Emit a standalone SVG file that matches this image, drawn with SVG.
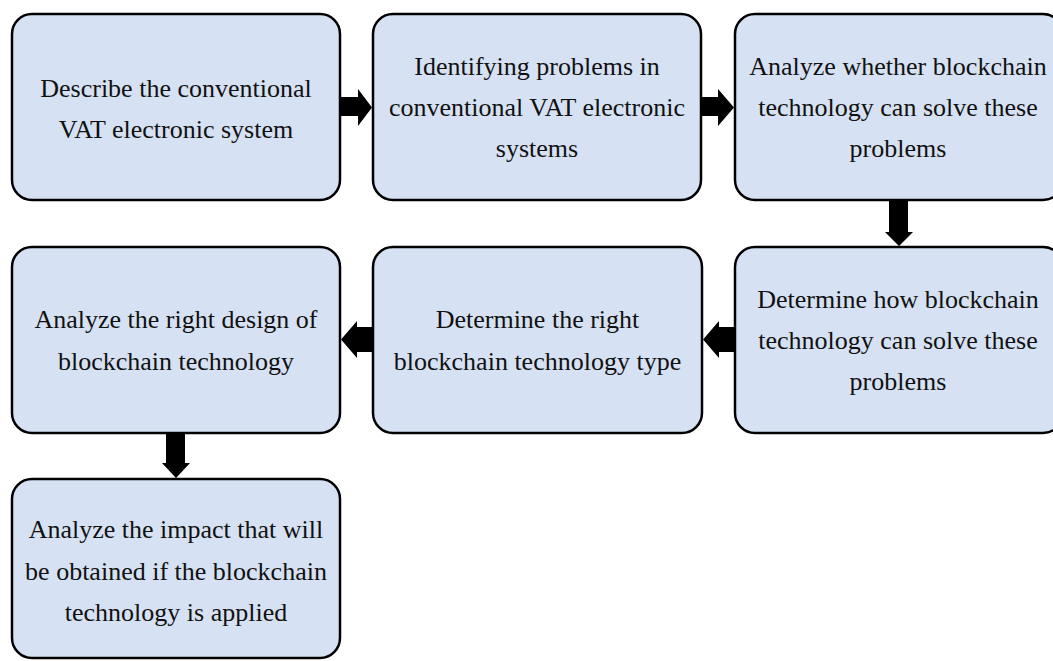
<svg xmlns="http://www.w3.org/2000/svg" width="1053" height="661" viewBox="0 0 1053 661">
<style>
.box{fill:#D6E2F3;stroke:#000;stroke-width:2.5}
.t{font-family:"Liberation Serif","Times New Roman",serif;font-size:26px;fill:#111;text-anchor:middle}
.arr{fill:#000}
</style>
<rect x="0" y="0" width="1053" height="661" fill="#fff"/>
<g id="connectors">
<polygon class="arr" points="340,97 358,97 358,89 372,107.5 358,126 358,116 340,116"/>
<polygon class="arr" points="702,97 718,97 718,89 734,107.5 718,126 718,116 702,116"/>
<polygon class="arr" points="889,200 908,200 908,232 913,232 899,246 885,232 889,232"/>
<polygon class="arr" points="737,327 719,327 719,321 703,339.5 719,358 719,352 737,352"/>
<polygon class="arr" points="373,327 357,327 357,321 341,339.5 357,358 357,352 373,352"/>
<polygon class="arr" points="166,432 185,432 185,463 190,463 176,478 162,463 166,463"/>
</g>
<g id="n1">
<rect class="box" x="12" y="14" width="328" height="186" rx="20"/>
<text class="t" x="176" y="97">Describe the conventional</text>
<text class="t" x="176" y="138">VAT electronic system</text>
</g>
<g id="n2">
<rect class="box" x="373" y="14" width="328" height="186" rx="20"/>
<text class="t" x="537" y="75">Identifying problems in</text>
<text class="t" x="537" y="116">conventional VAT electronic</text>
<text class="t" x="537" y="157">systems</text>
</g>
<g id="n3">
<rect class="box" x="735" y="14" width="328" height="186" rx="20"/>
<text class="t" x="898" y="75">Analyze whether blockchain</text>
<text class="t" x="898" y="116">technology can solve these</text>
<text class="t" x="898" y="157">problems</text>
</g>
<g id="n4">
<rect class="box" x="735" y="247" width="328" height="186" rx="20"/>
<text class="t" x="898" y="308">Determine how blockchain</text>
<text class="t" x="898" y="349">technology can solve these</text>
<text class="t" x="898" y="390">problems</text>
</g>
<g id="n5">
<rect class="box" x="373" y="247" width="329" height="186" rx="20"/>
<text class="t" x="537.5" y="328">Determine the right</text>
<text class="t" x="537.5" y="370">blockchain technology type</text>
</g>
<g id="n6">
<rect class="box" x="12" y="247" width="328" height="186" rx="20"/>
<text class="t" x="176" y="328">Analyze the right design of</text>
<text class="t" x="176" y="370">blockchain technology</text>
</g>
<g id="n7">
<rect class="box" x="12" y="479" width="328" height="179" rx="20"/>
<text class="t" x="176" y="538">Analyze the impact that will</text>
<text class="t" x="176" y="580">be obtained if the blockchain</text>
<text class="t" x="176" y="621">technology is applied</text>
</g>
</svg>
